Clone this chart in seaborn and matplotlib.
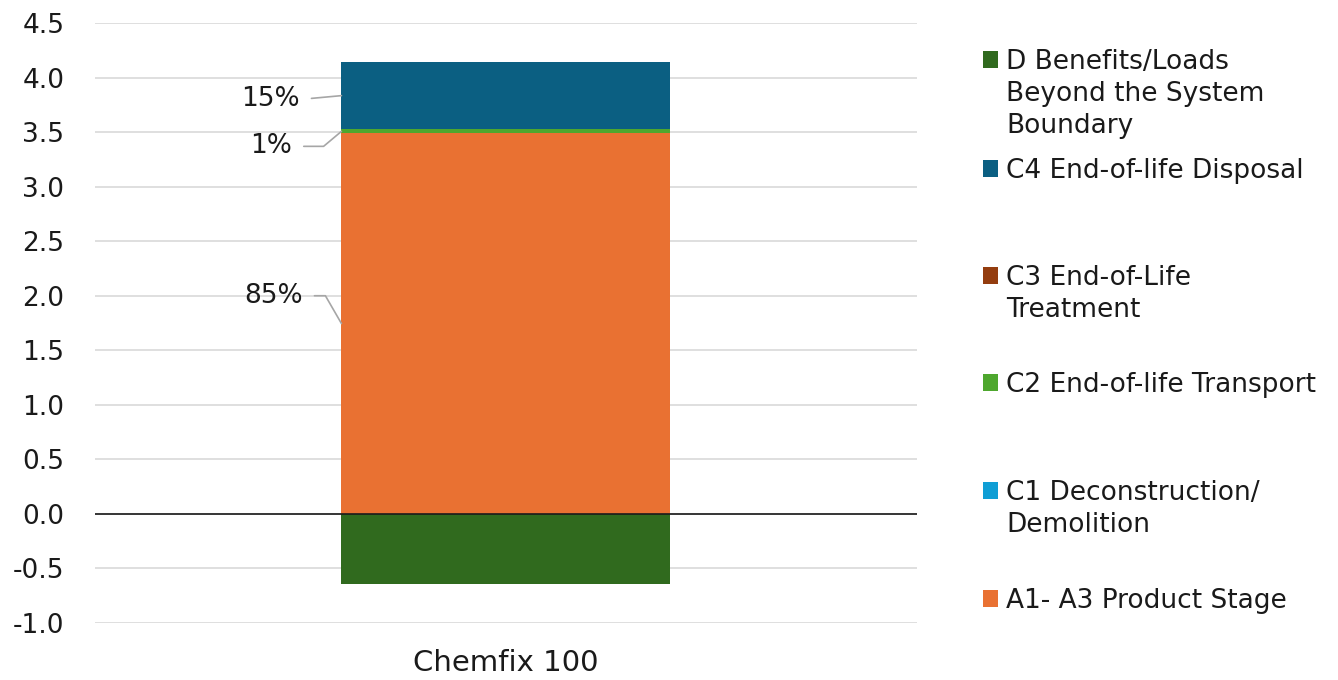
import pandas as pd
import seaborn as sns
import matplotlib.pyplot as plt
from matplotlib.patches import Patch

# данные
product = ['Chemfix 100']
stages = ['A1- A3 Product Stage', 'C1 Deconstruction/\nDemolition', 'C2 End-of-life Transport',
          'C3 End-of-Life\nTreatment', 'C4 End-of-life Disposal',
          'D Benefits/Loads\nBeyond the System\nBoundary']
values = [3.49, 0.0, 0.035, 0.0, 0.62, -0.64]
colors = ['#E97132', '#0F9ED5', '#4EA72E', '#943D0F', '#0B5F82', '#306A1E']
pct_labels = ['85%', '', '1%', '', '15%', '']

sns.set_theme(style='white', rc={'figure.figsize': (13.38, 6.8), 'figure.dpi': 100})
plt.rcParams['font.family'] = ['DejaVu Sans']

fig, ax = plt.subplots()
fig.subplots_adjust(left=0.071, right=0.685, top=0.966, bottom=0.084)

# стопка: положительные значения друг на друге, отрицательные от нуля
bottoms = []
pos = 0.0
for v in values:
    if v >= 0:
        bottoms.append(pos)
        pos += v
    else:
        bottoms.append(0.0)

for stage, v, b, c in zip(stages, values, bottoms, colors):
    df = pd.DataFrame({'product': product, 'value': [v]})
    sns.barplot(data=df, x='product', y='value', bottom=b, color=c, width=0.4,
                saturation=1, label=stage, ax=ax, zorder=3, linewidth=0)
if ax.get_legend() is not None:
    ax.get_legend().remove()

ax.set_xlim(-0.5, 0.5)
ax.set_ylim(-1.0, 4.5)
ax.set_yticks([i / 2 for i in range(-2, 10)])
ax.set_yticklabels([f'{i / 2:.1f}' for i in range(-2, 10)])
ax.tick_params(axis='y', labelsize=19, colors='#1a1a1a', pad=22, length=0)
ax.tick_params(axis='x', labelsize=21, colors='#1a1a1a', pad=19, length=0)
ax.set_xlabel('')
ax.set_ylabel('')
ax.grid(axis='y', color='#d9d9d9', linewidth=1.2, zorder=0)
ax.axhline(0, color='#1a1a1a', linewidth=1.2, zorder=4)
sns.despine(ax=ax, left=True, bottom=True, top=True, right=True)

# подписи процентов с выносками
x_edge = -0.2
text_pos = {0: (-0.247, 2.0, 'angle,angleA=0,angleB=120,rad=0'),
            2: (-0.260, 3.37, 'angle,angleA=0,angleB=40,rad=0'),
            4: (-0.2506, 3.80, 'arc3,rad=0')}
for i, (tx, ty, cs) in text_pos.items():
    mid = bottoms[i] + values[i] / 2
    ax.annotate(pct_labels[i], xy=(x_edge, mid), xytext=(tx, ty),
                ha='right', va='center', fontsize=19, color='#1a1a1a',
                arrowprops=dict(arrowstyle='-', color='#a6a6a6', lw=1.2,
                                connectionstyle=cs, relpos=(1, 0.5),
                                shrinkA=6, shrinkB=0))

# легенда: каждый пункт отдельно, как в Excel; маркер у первой строки
handles = ax.containers
blank = Patch(facecolor='none', edgecolor='none')
legend_rows = [(5, 60), (4, 169), (3, 276), (2, 383), (1, 491), (0, 599)]
for idx, ypix in legend_rows:
    lines = stages[idx].split('\n')
    hs = [handles[idx]] + [blank] * (len(lines) - 1)
    leg = fig.legend(hs, lines, loc='upper left',
                     bbox_to_anchor=(983 / 1338, 1 - (ypix - 11) / 680),
                     frameon=False, fontsize=19, handlelength=0.58, handleheight=0.58,
                     handletextpad=0.3, borderpad=0, borderaxespad=0, labelspacing=0.22)
    for t in leg.get_texts():
        t.set_color('#1a1a1a')

plt.savefig('out.png', dpi=100)
